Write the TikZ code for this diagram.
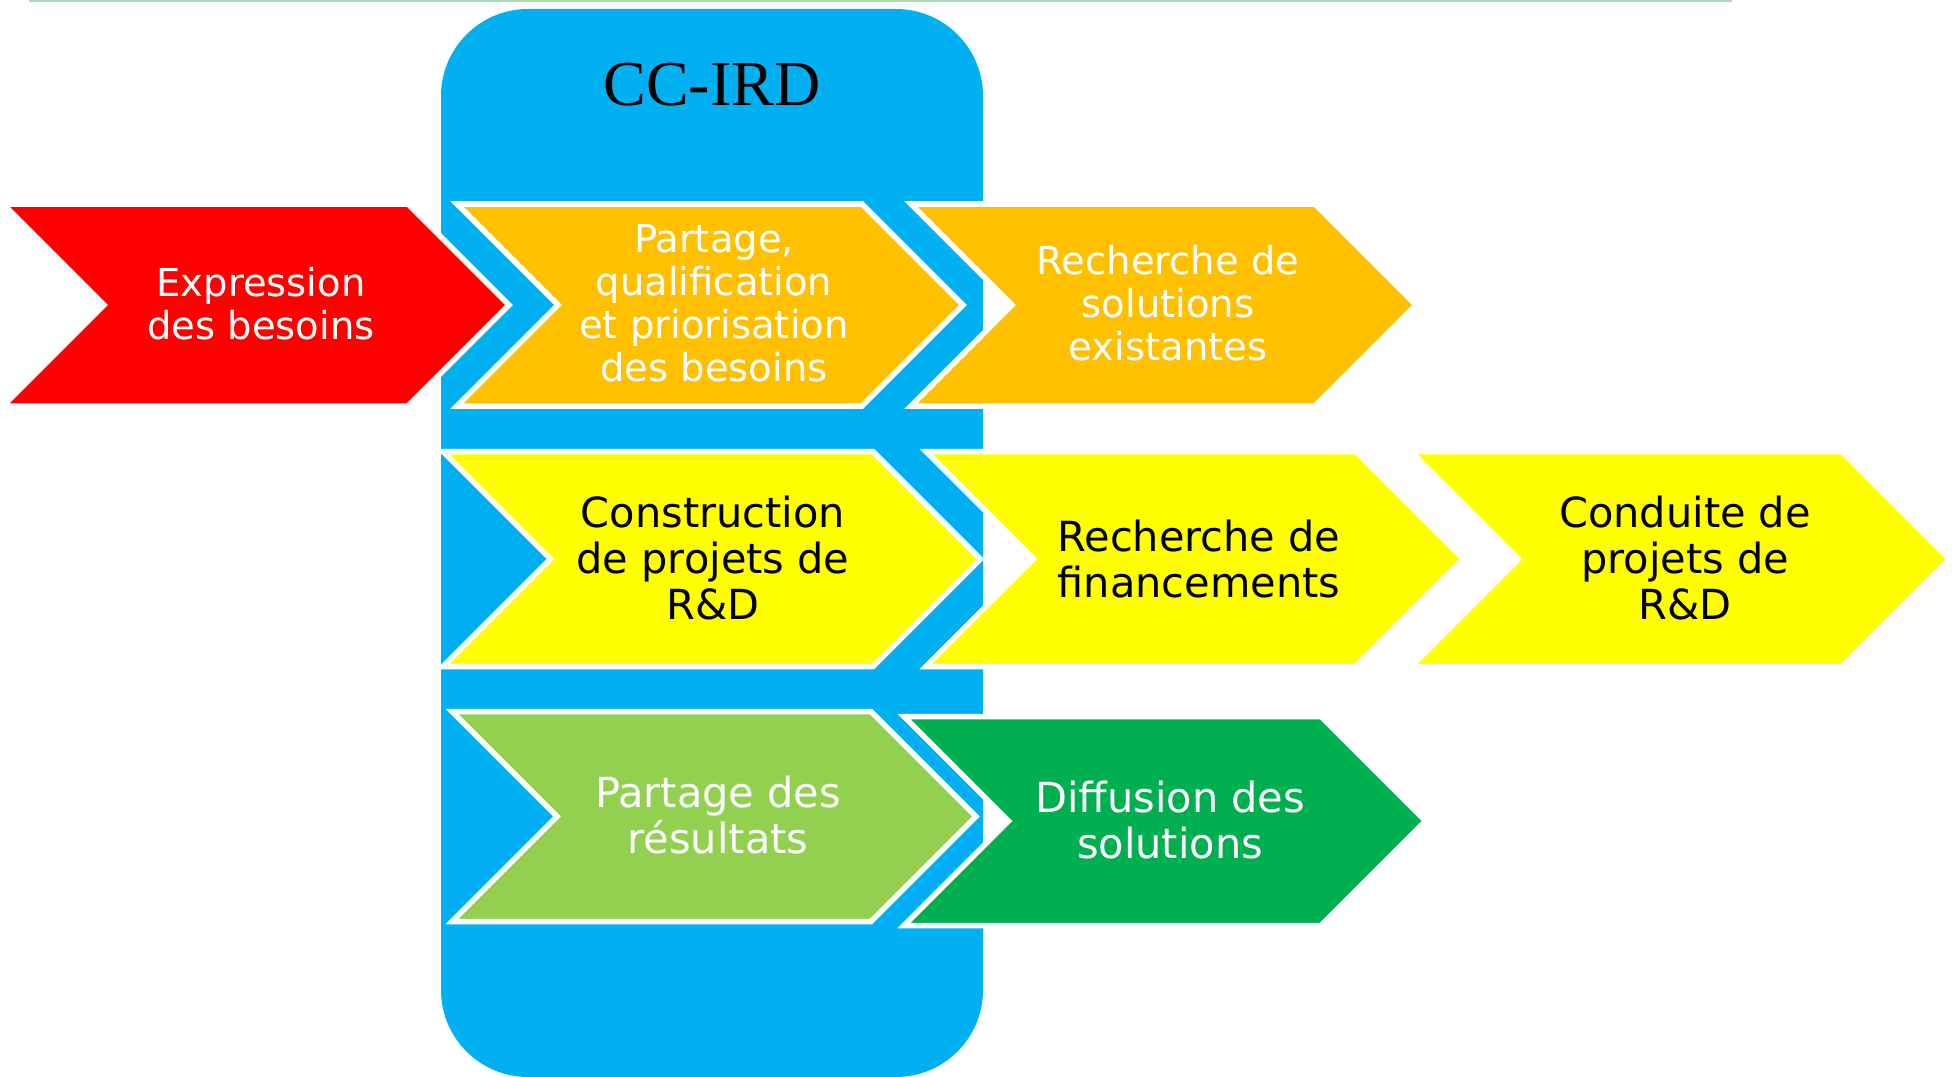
\documentclass[tikz,border=0pt]{standalone}
\usepackage{fontspec}
\setmainfont{DejaVu Sans}
\newfontfamily\titlefont{Liberation Serif}
\definecolor{cblue}{HTML}{00B0F0}
\definecolor{cred}{HTML}{FF0000}
\definecolor{corange}{HTML}{FFC000}
\definecolor{cyellow}{HTML}{FFFF00}
\definecolor{clgreen}{HTML}{92D050}
\definecolor{cdgreen}{HTML}{00B050}
\definecolor{cline}{RGB}{168,220,185}
\begin{document}
\begin{tikzpicture}[x=0.01cm,y=-0.01cm,
  chev/.style={fill=#1,draw=white,line width=0.055cm,line join=miter},
  smalltxt/.style={inner sep=0pt,align=center,font={\fontsize{10.95}{12.23}\selectfont}},
  bigtxt/.style={inner sep=0pt,align=center,font={\fontsize{11.8}{13.1}\selectfont}},
  wtxt/.style={text=white},
  btxt/.style={text=black}]
\useasboundingbox (0,0) rectangle (1952,1076);
\clip (0,0) rectangle (1952,1076);
% top line
\draw[cline,line width=0.015cm] (29,0.8) -- (1732,0.8);
% blue panel
\fill[cblue,rounded corners=0.87cm] (441,9) rectangle (983,1077);
\node[anchor=base,inner sep=0pt,font={\titlefont\fontsize{18.2}{20}\selectfont}] (title) at (712,106) {CC-IRD};
% row 1
\path[chev=cred] (3,204) -- (408,204) -- (509,305) -- (408,406) -- (3,406) -- (104,305) -- cycle;
\path[chev=corange] (457,204) -- (862,204) -- (963,305) -- (862,406) -- (457,406) -- (558,305) -- cycle;
\path[chev=corange] (911,204) -- (1315,204) -- (1416,305) -- (1315,406) -- (911,406) -- (1012,305) -- cycle;
\node[smalltxt,wtxt] (expr) at (261,304) {Expression\\des besoins};
\node[smalltxt,wtxt] (partage) at (714,303) {Partage,\\qualification\\et priorisation\\des besoins};
\node[smalltxt,wtxt] (rechsol) at (1168,303) {Recherche de\\solutions\\existantes};
% row 2
\path[chev=cyellow] (443,451.5) -- (873,451.5) -- (980.5,559) -- (873,666.5) -- (443,666.5) -- (550.5,559) -- cycle;
\path[chev=cyellow] (926,451.5) -- (1356,451.5) -- (1463.5,559) -- (1356,666.5) -- (926,666.5) -- (1033.5,559) -- cycle;
\path[chev=cyellow] (1411,451.5) -- (1842,451.5) -- (1949.5,559) -- (1842,666.5) -- (1411,666.5) -- (1518.5,559) -- cycle;
\node[bigtxt,btxt] (constr) at (713,558) {Construction\\de projets de\\R\&D};
\node[bigtxt,btxt] (financ) at (1199,559) {Recherche de\\financements};
\node[bigtxt,btxt] (conduite) at (1685,558) {Conduite de\\projets de\\R\&D};
% row 3
\path[chev=clgreen] (452,711.5) -- (871,711.5) -- (976,816.5) -- (871,921.5) -- (452,921.5) -- (557,816.5) -- cycle;
\path[chev=cdgreen] (904,716.5) -- (1321,716.5) -- (1425.5,821) -- (1321,925.5) -- (904,925.5) -- (1008.5,821) -- cycle;
\node[bigtxt,wtxt] (resultats) at (718,815) {Partage des\\résultats};
\node[bigtxt,wtxt] (diffusion) at (1170,820) {Diffusion des\\solutions};
\end{tikzpicture}
\end{document}
